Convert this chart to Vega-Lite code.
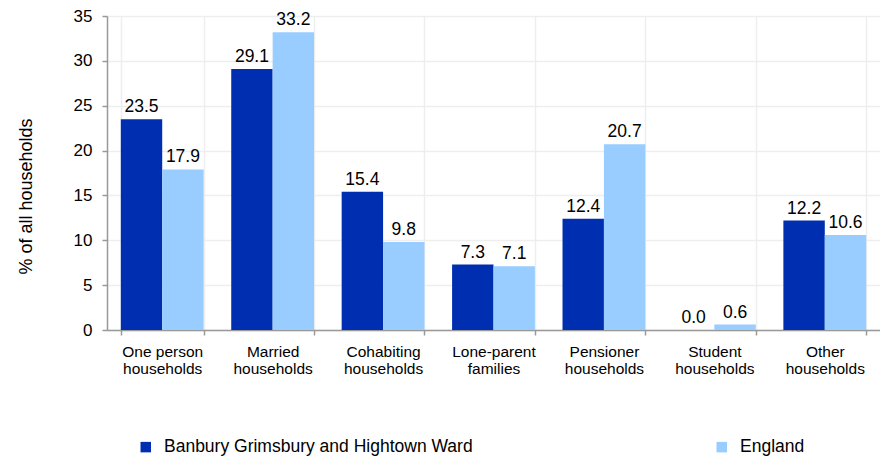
{
  "$schema": "https://vega.github.io/schema/vega-lite/v6.json",
  "autosize": "none",
  "width": 773,
  "height": 314,
  "padding": {"left": 107, "top": 16, "right": 0, "bottom": 127},
  "background": "white",
  "config": {
    "font": "Liberation Sans",
    "view": {"stroke": null},
    "axis": {"labelFont": "Liberation Sans", "titleFont": "Liberation Sans"}
  },
  "data": {
    "values": [
      {"category": "One person households", "area": "Banbury Grimsbury and Hightown Ward", "value": 23.5},
      {"category": "One person households", "area": "England", "value": 17.9},
      {"category": "Married households", "area": "Banbury Grimsbury and Hightown Ward", "value": 29.1},
      {"category": "Married households", "area": "England", "value": 33.2},
      {"category": "Cohabiting households", "area": "Banbury Grimsbury and Hightown Ward", "value": 15.4},
      {"category": "Cohabiting households", "area": "England", "value": 9.8},
      {"category": "Lone-parent families", "area": "Banbury Grimsbury and Hightown Ward", "value": 7.3},
      {"category": "Lone-parent families", "area": "England", "value": 7.1},
      {"category": "Pensioner households", "area": "Banbury Grimsbury and Hightown Ward", "value": 12.4},
      {"category": "Pensioner households", "area": "England", "value": 20.7},
      {"category": "Student households", "area": "Banbury Grimsbury and Hightown Ward", "value": 0.0},
      {"category": "Student households", "area": "England", "value": 0.6},
      {"category": "Other households", "area": "Banbury Grimsbury and Hightown Ward", "value": 12.2},
      {"category": "Other households", "area": "England", "value": 10.6}
    ]
  },
  "encoding": {
    "x": {
      "field": "category", "type": "nominal", "sort": null,
      "scale": {"paddingInner": 0.25, "paddingOuter": 0.125},
      "axis": {
        "title": null, "labelAngle": 0, "tickBand": "extent",
        "grid": true, "gridColor": "#eeeeee", "gridWidth": 1.5,
        "domainColor": "#999999", "domainWidth": 1.5,
        "tickColor": "#999999", "tickWidth": 1.5, "tickSize": 5,
        "labelFontSize": 15.5, "labelColor": "#000000", "labelPadding": 9,
        "labelLineHeight": 17,
        "labelExpr": "datum.label == 'One person households' ? ['One person', 'households'] : split(datum.label, ' ')"
      }
    },
    "xOffset": {"field": "area", "type": "nominal", "sort": null},
    "y": {
      "field": "value", "type": "quantitative",
      "scale": {"domain": [0, 35], "nice": false},
      "axis": {
        "title": "% of all households", "titleFontSize": 18, "titleFontWeight": "normal",
        "titleColor": "#000000", "titleAngle": 270, "titleX": -81, "titleY": 180,
        "titleAlign": "center", "titleBaseline": "middle",
        "values": [0, 5, 10, 15, 20, 25, 30, 35],
        "grid": true, "gridColor": "#eeeeee", "gridWidth": 1.5,
        "domainColor": "#999999", "domainWidth": 1.5,
        "tickColor": "#999999", "tickWidth": 1.5, "tickSize": 5,
        "labelFontSize": 17, "labelColor": "#000000", "labelPadding": 10
      }
    }
  },
  "layer": [
    {
      "mark": {"type": "bar"},
      "encoding": {
        "color": {
          "field": "area", "type": "nominal", "sort": null,
          "scale": {"domain": ["Banbury Grimsbury and Hightown Ward", "England"], "range": ["#002EB0", "#99CCFF"]},
          "legend": {
            "title": null, "orient": "none", "direction": "horizontal", "padding": 0,
            "legendX": 30, "legendY": 422, "columns": 2, "columnPadding": 240,
            "symbolType": "square", "symbolSize": 110, "symbolStrokeWidth": 0,
            "labelFontSize": 17.5, "labelColor": "#000000", "labelLimit": 400, "labelOffset": 9.5
          }
        }
      }
    },
    {
      "mark": {"type": "text", "dy": -7, "baseline": "alphabetic", "fontSize": 17.5, "color": "#000000", "font": "Liberation Sans"},
      "encoding": {
        "text": {"field": "value", "type": "quantitative", "format": ".1f"}
      }
    }
  ]
}
